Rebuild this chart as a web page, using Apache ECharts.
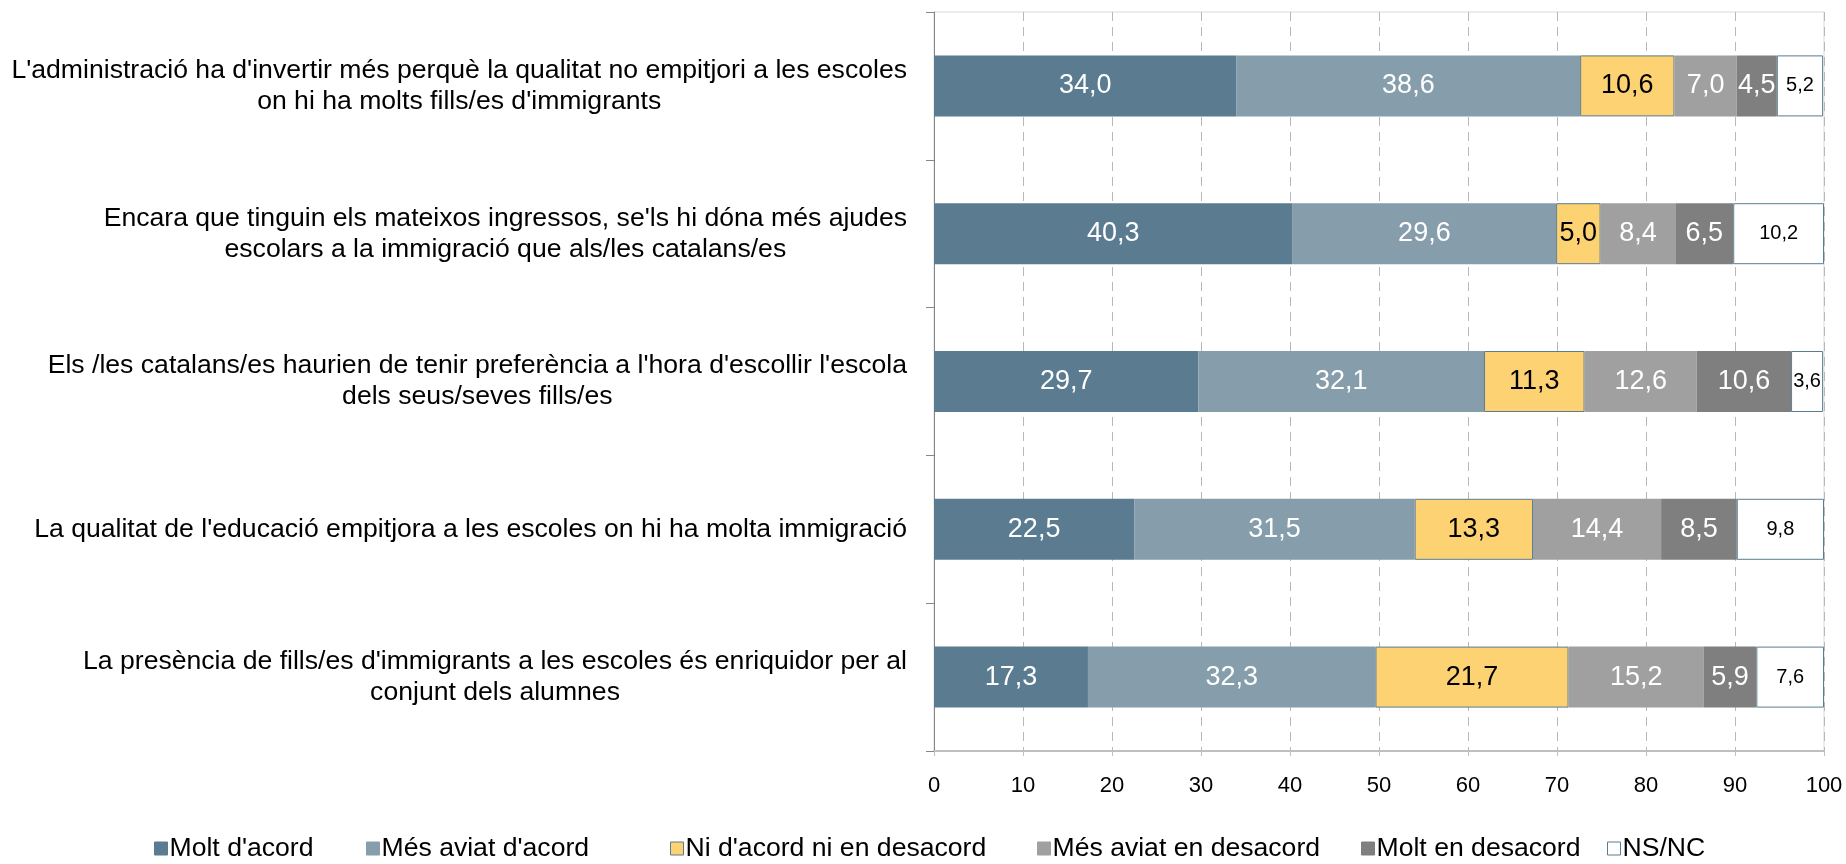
<!DOCTYPE html>
<html>
<head>
<meta charset="utf-8">
<script src="https://cdn.jsdelivr.net/npm/echarts@6/dist/echarts.min.js"></script>
<style>
  html, body { margin: 0; padding: 0; background: #fff; }
  #chart { width: 1846px; height: 864px; }
</style>
</head>
<body>
<div id="chart"></div>
<script>
// Statements, top to bottom (lines broken as in the source)
const categories = [
  "L'administració ha d'invertir més perquè la qualitat no empitjori a les escoles\non hi ha molts fills/es d'immigrants",
  "Encara que tinguin els mateixos ingressos, se'ls hi dóna més ajudes\nescolars a la immigració que als/les catalans/es",
  "Els /les catalans/es haurien de tenir preferència a l'hora d'escollir l'escola\ndels seus/seves fills/es",
  "La qualitat de l'educació empitjora a les escoles on hi ha molta immigració",
  "La presència de fills/es d'immigrants a les escoles és enriquidor per al\nconjunt dels alumnes"
];

const seriesNames = ["Molt d'acord", "Més aviat d'acord", "Ni d'acord ni en desacord",
  "Més aviat en desacord", "Molt en desacord", "NS/NC"];

const moltAcord = [34.0, 40.3, 29.7, 22.5, 17.3];
const mesAviatAcord = [38.6, 29.6, 32.1, 31.5, 32.3];
const niAcord = [10.6, 5.0, 11.3, 13.3, 21.7];
const mesAviatDesacord = [7.0, 8.4, 12.6, 14.4, 15.2];
const moltDesacord = [4.5, 6.5, 10.6, 8.5, 5.9];
const nsnc = [5.2, 10.2, 3.6, 9.8, 7.6];

const xTicks = [0, 10, 20, 30, 40, 50, 60, 70, 80, 90, 100];

const FONT = "'Liberation Sans', Arial, sans-serif";
const fmt = v => v.toFixed(1).replace(".", ",");

// colour, label colour, label size, border
const looks = [
  { color: "#5b7c90", text: "#fff", size: 27, border: null },
  { color: "#869dab", text: "#fff", size: 27, border: null },
  { color: "#fdd272", text: "#000", size: 27, border: "#5b7c90" },
  { color: "#a0a0a0", text: "#fff", size: 27, border: null },
  { color: "#7f7f7f", text: "#fff", size: 27, border: null },
  { color: "#ffffff", text: "#000", size: 20, border: "#5b7c90" }
];

// Excel spaces the legend entries unevenly, so each entry gets its own spot
const legendLeft = [154, 366, 670, 1037, 1361, 1607];

const values = [moltAcord, mesAviatAcord, niAcord, mesAviatDesacord, moltDesacord, nsnc];

const series = values.map((data, i) => ({
  name: seriesNames[i],
  type: "bar",
  stack: "total",
  barWidth: 61,
  data: data,
  itemStyle: {
    color: looks[i].color,
    borderColor: looks[i].border || looks[i].color,
    borderWidth: looks[i].border ? 1 : 0
  },
  label: {
    show: true,
    position: "inside",
    color: looks[i].text,
    fontSize: looks[i].size,
    fontFamily: FONT,
    formatter: p => fmt(p.value)
  },
  emphasis: { disabled: true }
}));

const legends = seriesNames.map((n, i) => ({
  top: 835,
  left: legendLeft[i],
  padding: 0,
  itemWidth: 13,
  itemHeight: 13,
  icon: "rect",
  selectedMode: false,
  textStyle: { fontSize: 26.6, fontFamily: FONT, color: "#000", padding: [0, 0, 0, -3] },
  data: [{
    name: n,
    itemStyle: { borderColor: looks[i].border || looks[i].color, borderWidth: 1 }
  }]
}));

const chart = echarts.init(document.getElementById("chart"));
chart.setOption({
  animation: false,
  grid: {
    left: 934, right: 22, top: 12, bottom: 113,
    outerBoundsMode: "none",
    containLabel: false,
    show: true, borderColor: "#d9d9d9", borderWidth: 1
  },
  legend: legends,
  xAxis: {
    type: "value",
    min: xTicks[0],
    max: xTicks[xTicks.length - 1],
    interval: 10,
    axisLine: { show: true, lineStyle: { color: "#bfbfbf", width: 2 } },
    axisTick: { show: true, length: 5, lineStyle: { color: "#bfbfbf" } },
    splitLine: { show: true, lineStyle: { color: "#b8b8b8", type: [9, 6], width: 1 } },
    axisLabel: { fontSize: 22, fontFamily: FONT, color: "#000", margin: 24 }
  },
  yAxis: {
    type: "category",
    inverse: true,
    data: categories,
    axisLine: { show: true, lineStyle: { color: "#868686", width: 1 } },
    axisTick: { show: true, length: 8, lineStyle: { color: "#868686" } },
    axisLabel: {
      margin: 27,
      color: "#000",
      fontSize: 26.6,
      fontFamily: FONT,
      lineHeight: 31,
      formatter: v => v.split("\n").map(l => "{c|" + l + "}").join("\n"),
      rich: { c: { align: "center", fontSize: 26.6, fontFamily: FONT, lineHeight: 31, color: "#000" } }
    }
  },
  series: series
});
</script>
</body>
</html>
